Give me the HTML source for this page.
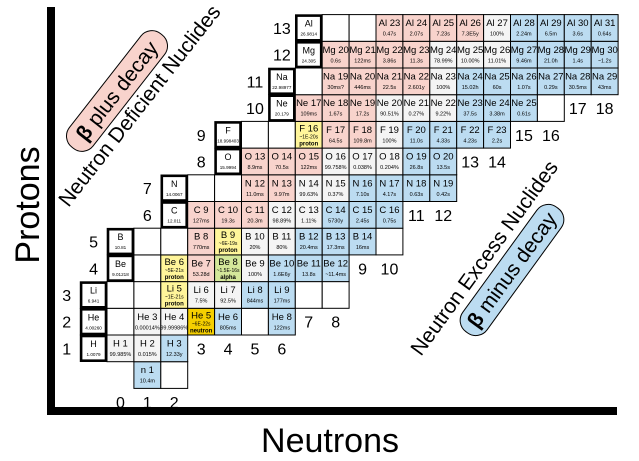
<!DOCTYPE html>
<html><head><meta charset="utf-8"><style>
html,body{margin:0;padding:0;background:#fff;}
svg{display:block;font-family:"Liberation Sans",Arial,sans-serif;}
</style></head><body>
<svg id="chart" width="639" height="461" viewBox="0 0 639 461" xmlns="http://www.w3.org/2000/svg">
<rect x="47" y="7" width="8" height="408" fill="#000"/>
<rect x="47" y="407" width="570" height="8" fill="#000"/>
<text x="30" y="205" font-size="34" text-anchor="middle" dominant-baseline="middle" transform="rotate(-90 30 205)">Protons</text>
<text x="330" y="452" font-size="34" text-anchor="middle">Neutrons</text>
<g transform="translate(117 91) rotate(-52)">
<rect x="-72" y="-15" width="144" height="30" rx="14" fill="#f8d3cc" stroke="#000" stroke-width="1"/>
<text x="0" y="7" font-size="21" text-anchor="middle"><tspan font-weight="bold">β</tspan> plus decay</text></g>
<text x="0" y="0" font-size="21" text-anchor="middle" transform="translate(145 110) rotate(-52)">Neutron Deficient Nuclides</text>
<text x="0" y="0" font-size="21" text-anchor="middle" transform="translate(490 262) rotate(-54)">Neutron Excess Nuclides</text>
<g transform="translate(512 270) rotate(-54)">
<rect x="-77" y="-15" width="154" height="30" rx="14" fill="#bcdcf1" stroke="#000" stroke-width="1"/>
<text x="0" y="7" font-size="21" text-anchor="middle"><tspan font-weight="bold">β</tspan> minus decay</text></g>
<g id="cells"></g>
</svg>
<script>
const nuclides = [
"0|1|n 1|10.4m|b","0|2|||e",
"1|0|H 1|99.985%|w","1|1|H 2|0.015%|w","1|2|H 3|12.33y|b",
"2|0|||e","2|1|He 3|0.00014%|w","2|2|He 4|99.99986%|w","2|3|He 5|~6E-22s|g|neutron","2|4|He 6|805ms|b","2|5|||e","2|6|He 8|122ms|b",
"3|0|||e","3|1|||e","3|2|Li 5|~1E-21s|y|proton","3|3|Li 6|7.5%|w","3|4|Li 7|92.5%|w","3|5|Li 8|844ms|b","3|6|Li 9|177ms|b","3|7|||e","3|8|||e",
"4|1|||e","4|2|Be 6|~5E-21s|y|proton","4|3|Be 7|53.28d|p","4|4|Be 8|~1.5E-16s|gr|alpha","4|5|Be 9|100%|w","4|6|Be 10|1.6E6y|b","4|7|Be 11|13.8s|b","4|8|Be 12|~11.4ms|b",
"5|1|||e","5|2|||e","5|3|B 8|770ms|p","5|4|B 9|~6E-19s|y|proton","5|5|B 10|20%|w","5|6|B 11|80%|w","5|7|B 12|20.4ms|b","5|8|B 13|17.3ms|b","5|9|B 14|16ms|b","5|10|||e",
"6|3|C 9|127ms|p","6|4|C 10|19.3s|p","6|5|C 11|20.3m|p","6|6|C 12|98.89%|w","6|7|C 13|1.11%|w","6|8|C 14|5730y|b","6|9|C 15|2.45s|b","6|10|C 16|0.75s|b",
"7|3|||e","7|4|||e","7|5|N 12|11.0ms|p","7|6|N 13|9.97m|p","7|7|N 14|99.63%|w","7|8|N 15|0.37%|w","7|9|N 16|7.10s|b","7|10|N 17|4.17s|b","7|11|N 18|0.63s|b","7|12|N 19|0.42s|b",
"8|5|O 13|8.9ms|p","8|6|O 14|70.5s|p","8|7|O 15|122ms|p","8|8|O 16|99.758%|w","8|9|O 17|0.038%|w","8|10|O 18|0.204%|w","8|11|O 19|26.8s|b","8|12|O 20|13.5s|b",
"9|5|||e","9|6|||e","9|7|F 16|~1E-20s|y|proton","9|8|F 17|64.5s|p","9|9|F 18|109.8m|p","9|10|F 19|100%|w","9|11|F 20|11.0s|b","9|12|F 21|4.33s|b","9|13|F 22|4.23s|b","9|14|F 23|2.2s|b",
"10|7|Ne 17|109ms|p","10|8|Ne 18|1.67s|p","10|9|Ne 19|17.2s|p","10|10|Ne 20|90.51%|w","10|11|Ne 21|0.27%|w","10|12|Ne 22|9.22%|w","10|13|Ne 23|37.5s|b","10|14|Ne 24|3.38m|b","10|15|Ne 25|0.61s|b","10|16|||e",
"11|7|||e","11|8|Na 19|30ms?|p","11|9|Na 20|446ms|p","11|10|Na 21|22.5s|p","11|11|Na 22|2.601y|p","11|12|Na 23|100%|w","11|13|Na 24|15.02h|b","11|14|Na 25|60s|b","11|15|Na 26|1.07s|b","11|16|Na 27|0.29s|b","11|17|Na 28|30.5ms|b","11|18|Na 29|43ms|b",
"12|8|Mg 20|0.6s|p","12|9|Mg 21|122ms|p","12|10|Mg 22|3.86s|p","12|11|Mg 23|11.3s|p","12|12|Mg 24|78.99%|w","12|13|Mg 25|10.00%|w","12|14|Mg 26|11.01%|w","12|15|Mg 27|9.46m|b","12|16|Mg 28|21.0h|b","12|17|Mg 29|1.4s|b","12|18|Mg 30|~1.2s|b",
"13|8|||e","13|9|||e","13|10|Al 23|0.47s|p","13|11|Al 24|2.07s|p","13|12|Al 25|7.23s|p","13|13|Al 26|7.3E5y|p","13|14|Al 27|100%|w","13|15|Al 28|2.24m|b","13|16|Al 29|6.5m|b","13|17|Al 30|3.6s|b","13|18|Al 31|0.64s|b"
];
const elemSymbols = ["H","He","Li","Be","B","C","N","O","F","Ne","Na","Mg","Al"];
const elemWeights = ["1.0079","4.00260","6.941","9.01218","10.81","12.011","14.0067","15.9994","18.998403","20.179","22.98977","24.305","26.9814"];
const elemCols = [-1,-1,-1,0,0,2,2,4,4,6,6,7,7];
const nLabels = ["0","1","2","3","4","5","6","7","8","9","10","11","12","13","14","15","16","17","18"];
const nLabelRows = [-1,-1,-1,1,1,1,1,2,2,4,4,6,6,8,8,9,9,10,10];

const NS="http://www.w3.org/2000/svg";
const g=document.getElementById('cells');
const CW=26.9, CH=26.7;
const xN=n=>107+n*CW;
const yZ=z=>335-(z-1)*CH;
const fills={b:"#bcdcf1",p:"#f8d3cc",w:"#f4f4f4",y:"#fff59a",g:"#f5cf00",gr:"#d4e79a",e:"#ffffff"};
function mk(tag,attrs,txt){const e=document.createElementNS(NS,tag);for(const k in attrs)e.setAttribute(k,attrs[k]);if(txt!==undefined)e.textContent=txt;g.appendChild(e);return e;}
nuclides.forEach(s=>{
  const [z,n,name,val,type,extra]=s.split('|');
  const x=xN(+n), y=yZ(+z);
  const r=mk('rect',{x:x,y:y,width:CW,height:CH,fill:fills[type],stroke:"#000","stroke-width":1});
  
  
  if(type==='e')return;
  const t=mk('text',{x:x+CW/2,y:y+(extra?10:11.5),"font-size":9.5,"text-anchor":"middle"},name);
  
  
  const v=mk('text',{x:x+CW/2,y:y+(extra?17:21),"font-size":extra?5:5.5,"text-anchor":"middle"},val);
  
  
  if(extra){
    const e2=mk('text',{x:x+CW/2,y:y+24,"font-size":6,"font-weight":"bold","text-anchor":"middle"},extra);
    
    
  }
});
elemSymbols.forEach((sym,i)=>{
  const z=i+1, x=xN(elemCols[i]), y=yZ(z);
  const r=mk('rect',{x:x+1,y:y+1,width:CW-2,height:CH-2,fill:"#fff",stroke:"#000","stroke-width":2.6});
  
  
  const t=mk('text',{x:x+CW/2,y:y+12,"font-size":9,"text-anchor":"middle"},sym);
  
  
  const w=mk('text',{x:x+CW/2,y:y+21,"font-size":4.6,"text-anchor":"middle"},elemWeights[i]);
  
  
  const zl=mk('text',{x:x-CW/2,y:y+CH/2+6,"font-size":16,"text-anchor":"middle"},String(z));
  
  
});
nLabels.forEach((lab,i)=>{
  const x=xN(i)+CW/2, y=yZ(nLabelRows[i])+CH/2+6;
  const t=mk('text',{x:x,y:y,"font-size":16,"text-anchor":"middle"},lab);
  
  
});
</script>
</body></html>
